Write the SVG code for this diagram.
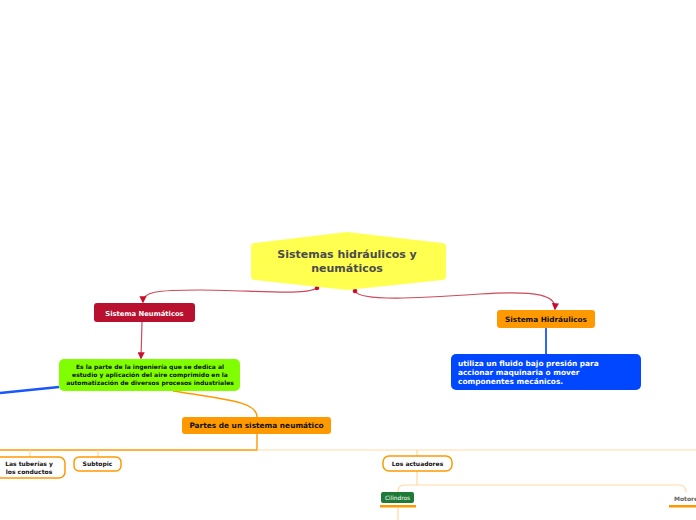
<svg xmlns="http://www.w3.org/2000/svg" width="696" height="520" viewBox="0 0 696 520">
<style>
text{font-family:"DejaVu Sans","Verdana",sans-serif;font-weight:bold;text-anchor:middle}
.red{fill:none;stroke:#cc4b5c;stroke-width:1.2}
.lo{fill:none;stroke:#ffd9a3;stroke-width:1.2}
.or{fill:none;stroke:#ff9900;stroke-width:1.4}
.sub{fill:#fff;stroke:#ff9900;stroke-width:1.5}
.st{font-size:6px;fill:#111}
</style>
<defs>
<marker id="ah" viewBox="0 0 10 10" refX="8" refY="5" markerWidth="6" markerHeight="6" orient="auto">
<path d="M0,0 L10,5 L0,10 z" fill="#c8102e"/>
</marker>
</defs>
<rect width="696" height="520" fill="#fff"/>
<g id="connectors">
<path class="red" d="M317,288 C305,296 250,290 200,290 C155,290 143,292 143,302" marker-end="url(#ah)"/>
<circle cx="317" cy="288" r="2.3" fill="#c8102e"/>
<path class="red" d="M355,291 C360,302 420,298 480,294 C540,290 556,296 555,309" marker-end="url(#ah)"/>
<circle cx="355" cy="291" r="2.3" fill="#c8102e"/>
<path class="red" d="M142,322 L141,358" marker-end="url(#ah)"/>
<path d="M546,328 L546,354" fill="none" stroke="#1a55ff" stroke-width="1.8"/>
<path d="M59,387 C40,389 20,391 0,393" fill="none" stroke="#1a55ff" stroke-width="2.6"/>
<path class="or" d="M173,391 C230,400 257,402 257,417"/>
<path class="or" d="M257,434 L257,450 L0,450"/>
<path class="lo" d="M257,450 L696,450"/>
<path class="lo" d="M30,450 L30,457 M98,450 L98,457 M417,450 L417,456"/>
<path class="lo" d="M417,471 L417,485 M417,485 L404,485 Q398,485 398,492 M417,485 L680,485 Q686,486 686,492"/>
<path class="lo" d="M398,508 L398,520"/>
</g>
<g id="root">
<path d="M251,246 Q251,243 255,243 L347,232 L442,243 Q446,243 446,247 L446,277 Q446,280 442,280 L347,290 L255,280 Q251,280 251,276 Z" fill="#ffff50"/>
<text x="347" y="258" font-size="11" fill="#4b4b4b">Sistemas hidráulicos y</text>
<text x="347" y="272" font-size="11" fill="#4b4b4b">neumáticos</text>
</g>
<g id="neumaticos">
<rect x="94" y="303" width="101" height="19" rx="3" fill="#b8102e"/>
<text x="144.5" y="315.5" font-size="6.8" fill="#fff">Sistema Neumáticos</text>
</g>
<g id="hidraulicos">
<rect x="497" y="310" width="98" height="18" rx="3" fill="#ff9900"/>
<text x="546" y="321.5" font-size="7.3" fill="#111">Sistema Hidráulicos</text>
</g>
<g id="hidraulicos-def">
<rect x="451" y="354" width="190" height="36" rx="5" fill="#0047ff"/>
<text x="458" y="366" font-size="7.4" fill="#fff" style="text-anchor:start">utiliza un fluido bajo presión para</text>
<text x="458" y="375" font-size="7.4" fill="#fff" style="text-anchor:start">accionar maquinaria o mover</text>
<text x="458" y="384" font-size="7.4" fill="#fff" style="text-anchor:start">componentes mecánicos.</text>
</g>
<g id="neumaticos-def">
<rect x="59" y="359" width="181" height="32" rx="5" fill="#80ff00"/>
<text x="150" y="369" font-size="6" fill="#111">Es la parte de la ingeniería que se dedica al</text>
<text x="150" y="377" font-size="6" fill="#111">estudio y aplicación del aire comprimido en la</text>
<text x="150" y="385" font-size="6" fill="#111">automatización de diversos procesos industriales</text>
</g>
<g id="partes">
<rect x="182" y="417" width="149" height="17" rx="3" fill="#ff9900"/>
<text x="256.5" y="428" font-size="7.4" fill="#111">Partes de un sistema neumático</text>
</g>
<g id="tuberias">
<rect x="-8" y="457" width="73" height="21" rx="6" class="sub"/>
<text x="29" y="466" class="st">Las tuberías y</text>
<text x="29" y="474" class="st">los conductos</text>
</g>
<g id="subtopic">
<rect x="74" y="457" width="47" height="14" rx="5" class="sub"/>
<text x="97.5" y="466" class="st">Subtopic</text>
</g>
<g id="actuadores">
<rect x="383" y="456" width="69" height="15" rx="6" class="sub"/>
<text x="417.5" y="466" class="st">Los actuadores</text>
</g>
<g id="cilindros">
<rect x="381" y="492" width="33" height="11" rx="2" fill="#1f7a37"/>
<text x="397.5" y="499.5" font-size="5.8" fill="#fff" style="font-weight:normal">Cilindros</text>
<rect x="380" y="505" width="36" height="2.5" fill="#ff9900"/>
</g>
<g id="motores">
<text x="674" y="501" font-size="6" fill="#666" style="text-anchor:start">Motores</text>
<rect x="669" y="505" width="27" height="2.5" fill="#ff9900"/>
</g>
</svg>
